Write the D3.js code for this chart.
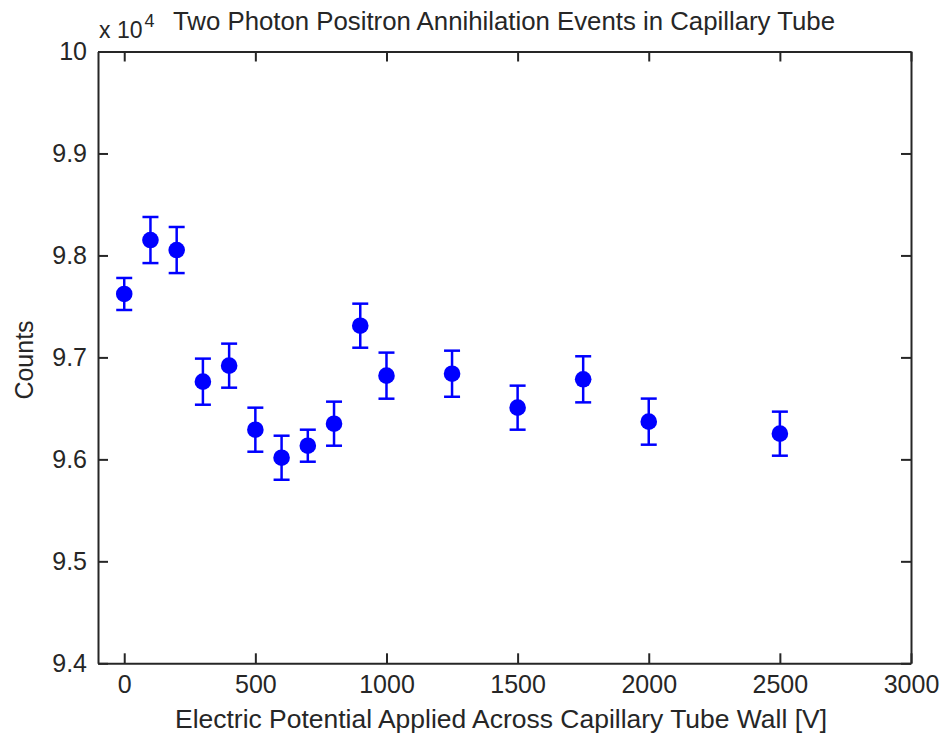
<!DOCTYPE html>
<html>
<head>
<meta charset="utf-8">
<script src="https://cdn.jsdelivr.net/npm/d3@7"></script>
<style>
    body { margin: 0; background: #fff; }
    svg { display: block; }
    text { font-family: "Liberation Sans", Arial, Helvetica, sans-serif; fill: #262626; }
</style>
</head>
<body>
<div id="container"><svg></svg></div>
<script>
let width = 943;
let height = 740;

// applied voltage [V]
let voltages = [0, 100, 200, 300, 400, 500, 600, 700, 800, 900, 1000, 1250, 1500, 1750, 2000, 2500];
// two-photon counts
let counts = [97622, 98151, 98053, 96762, 96919, 96291, 96016, 96134, 96350, 97311, 96821, 96840, 96507, 96785, 96370, 96252];
// counting uncertainty
let errors = [157, 226, 226, 226, 216, 216, 216, 157, 216, 216, 226, 226, 216, 226, 226, 216];

let x_ticks = [0, 500, 1000, 1500, 2000, 2500, 3000];
let y_ticks = [94000, 95000, 96000, 97000, 98000, 99000, 100000];

let title_text = 'Two Photon Positron Annihilation Events in Capillary Tube';
let x_label = 'Electric Potential Applied Across Capillary Tube Wall [V]';
let y_label = 'Counts';

function draw_main() {
    let padding = {'left': 98, 'right': 32, 'top': 51.5, 'bottom': 76.7};
    let svg = d3.select('#container')
        .select('svg')
        .attr('width', width)
        .attr('height', height);

    let x = d3.scaleLinear()
        .domain([-100, 3000])
        .range([padding.left, width - padding.right]);
    let y = d3.scaleLinear()
        .domain([94000, 100000])
        .range([height - padding.bottom, padding.top]);

    let axis_color = '#262626';
    let fmt_y = d => (d / 1e4).toFixed(d % 10000 == 0 ? 0 : 1);

    function style_axis(g) {
        g.attr('font-size', '25px')
            .attr('font-family', '"Liberation Sans", Arial, sans-serif');
        g.selectAll('path').attr('stroke', axis_color).attr('stroke-width', 2);
        g.selectAll('line').attr('stroke', axis_color).attr('stroke-width', 2);
        g.selectAll('text').attr('fill', axis_color);
    }

    // bottom axis with labels
    svg.append('g')
        .attr('transform', `translate(0, ${height - padding.bottom})`)
        .call(d3.axisBottom(x).tickValues(x_ticks).tickFormat(d3.format('d'))
            .tickSizeInner(-10).tickSizeOuter(0).tickPadding(12))
        .call(style_axis);
    // left axis with labels
    svg.append('g')
        .attr('transform', `translate(${padding.left}, 0)`)
        .call(d3.axisLeft(y).tickValues(y_ticks).tickFormat(fmt_y)
            .tickSizeInner(-10).tickSizeOuter(0).tickPadding(11))
        .call(style_axis);
    // top and right box edges, ticks only
    svg.append('g')
        .attr('transform', `translate(0, ${padding.top})`)
        .call(d3.axisTop(x).tickValues(x_ticks).tickFormat('').tickSizeInner(-10).tickSizeOuter(0))
        .call(style_axis);
    svg.append('g')
        .attr('transform', `translate(${width - padding.right}, 0)`)
        .call(d3.axisRight(y).tickValues(y_ticks).tickFormat('').tickSizeInner(-10).tickSizeOuter(0))
        .call(style_axis);

    // exponent note
    let expo = svg.append('text')
        .attr('x', padding.left + 1)
        .attr('y', 38)
        .attr('font-size', '23px');
    expo.append('tspan').text('x 10');
    expo.append('tspan')
        .attr('font-size', '18px')
        .attr('dx', 2)
        .attr('dy', -11)
        .text('4');

    // title
    svg.append('text')
        .attr('x', 504)
        .attr('y', 30)
        .attr('text-anchor', 'middle')
        .attr('font-size', '25px')
        .attr('textLength', 662)
        .attr('lengthAdjust', 'spacingAndGlyphs')
        .text(title_text);

    // axis labels
    svg.append('text')
        .attr('x', 501)
        .attr('y', 728)
        .attr('text-anchor', 'middle')
        .attr('font-size', '26px')
        .attr('textLength', 652)
        .attr('lengthAdjust', 'spacingAndGlyphs')
        .text(x_label);

    svg.append('text')
        .attr('transform', `translate(33, 360) rotate(-90)`)
        .attr('text-anchor', 'middle')
        .attr('font-size', '25px')
        .text(y_label);

    // error bars
    let data = voltages.map((v, i) => ({'v': v, 'c': counts[i], 'e': errors[i]}));
    let blue = '#0000ff';
    let cap = 8;
    let bars = svg.append('g')
        .attr('stroke', blue)
        .attr('stroke-width', 2.5)
        .selectAll('g')
        .data(data)
        .enter().append('g');
    bars.append('line')
        .attr('x1', d => x(d.v)).attr('x2', d => x(d.v))
        .attr('y1', d => y(d.c - d.e)).attr('y2', d => y(d.c + d.e));
    bars.append('line')
        .attr('x1', d => x(d.v) - cap).attr('x2', d => x(d.v) + cap)
        .attr('y1', d => y(d.c + d.e)).attr('y2', d => y(d.c + d.e));
    bars.append('line')
        .attr('x1', d => x(d.v) - cap).attr('x2', d => x(d.v) + cap)
        .attr('y1', d => y(d.c - d.e)).attr('y2', d => y(d.c - d.e));

    // markers
    svg.append('g')
        .selectAll('circle')
        .data(data)
        .enter().append('circle')
        .attr('cx', d => x(d.v))
        .attr('cy', d => y(d.c))
        .attr('r', 8.3)
        .attr('fill', blue);
}

draw_main();
</script>
</body>
</html>
